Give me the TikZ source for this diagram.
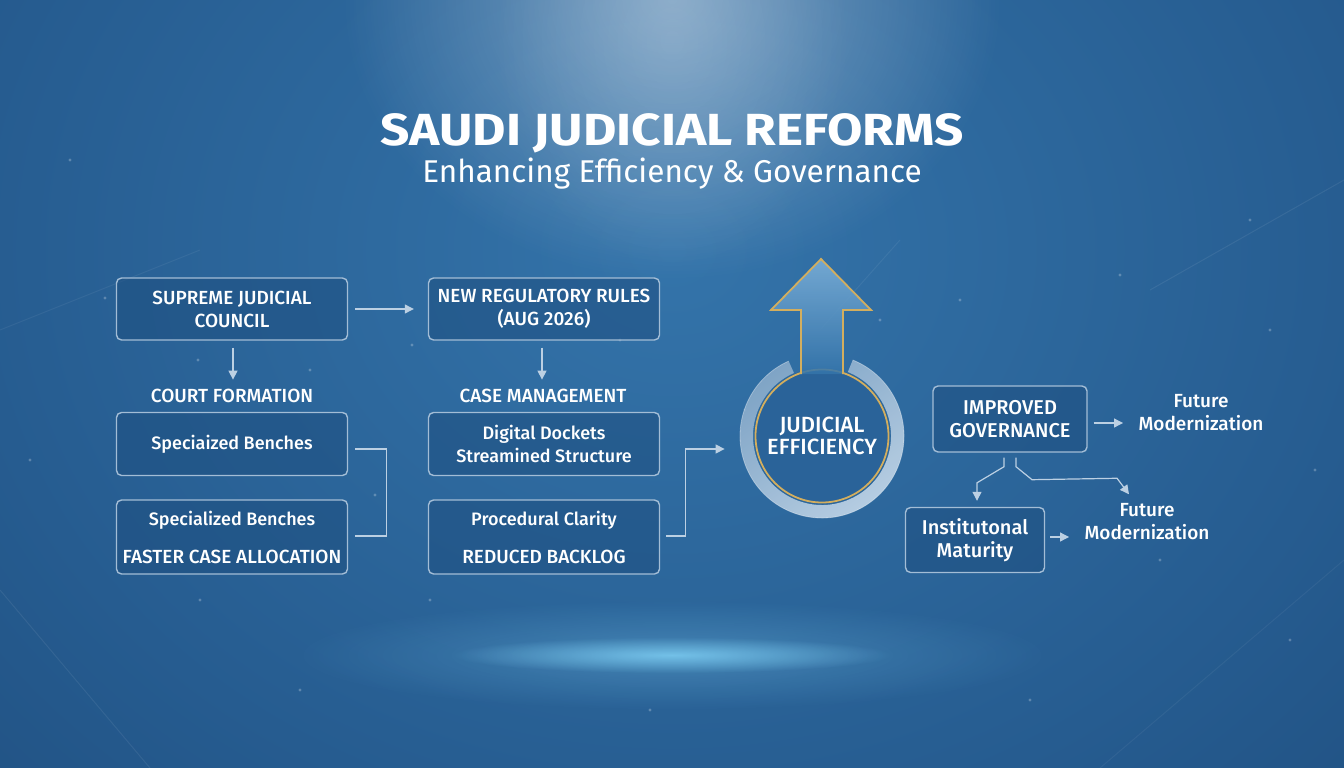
\documentclass[tikz,border=0pt]{standalone}
\usepackage{fontspec}
\setmainfont{Fira Sans}
\newfontfamily\medfont{Fira Sans Medium}
\usetikzlibrary{arrows.meta,fadings,calc}
\definecolor{bgbase}{HTML}{265C90}
\definecolor{bgcenter}{HTML}{3474AA}
\definecolor{bgedge}{HTML}{173E6B}
\definecolor{boxline}{HTML}{A3BDD6}
\definecolor{boxfill}{HTML}{1E4F80}
\definecolor{connc}{HTML}{BCD0E3}
\definecolor{gold}{HTML}{D3AE5E}
\definecolor{ringA}{HTML}{86A9C9}
\definecolor{ringB}{HTML}{C6D9EA}
\definecolor{glowc}{HTML}{7FD0F5}
\definecolor{circin}{HTML}{2A6399}
\definecolor{arrtop}{HTML}{7FB2DA}
\pgfdeclareradialshading{bgshade}{\pgfpoint{0bp}{0bp}}{color(0bp)=(bgcenter); color(18bp)=(bgbase); color(40bp)=(bgedge); color(50bp)=(bgedge)}
\tikzfading[name=glow, inner color=transparent!0, outer color=transparent!100]
\newcommand\upfont{\medfont\fontsize{19}{23}\selectfont}
\newcommand\mixfont{\medfont\fontsize{18}{23}\selectfont}
\tikzset{
  box/.style={draw=boxline, line width=1.4pt, rounded corners=5pt, fill=boxfill, fill opacity=0.55, text opacity=1, text=white, align=center, minimum width=231pt, font=\upfont},
  lbl/.style={text=white, align=center, font=\upfont},
  fm/.style={text=white, align=center, font=\medfont\fontsize{19}{23}\selectfont},
  conn/.style={draw=connc, line width=1.2pt},
  arr/.style={conn, -{Triangle[length=9pt,width=9pt]}},
  dot/.style={fill=white, opacity=0.25}
}
\begin{document}
\begin{tikzpicture}[x=1pt,y=-1pt]
\useasboundingbox (0,0) rectangle (1344,768);
\clip (0,0) rectangle (1344,768);
% background
\shade[shading=bgshade] (-300,-560) rectangle (1644,1060);
\fill[white, opacity=0.38, path fading=glow] (672,0) ellipse (330pt and 280pt);
\fill[white, opacity=0.15, path fading=glow] (672,40) ellipse (180pt and 230pt);
\fill[glowc, opacity=0.3, path fading=glow] (672,655) ellipse (380pt and 55pt);
\fill[glowc, opacity=0.8, path fading=glow] (672,655) ellipse (220pt and 18pt);
% faint lines
\draw[white, opacity=0.07, line width=1pt] (0,590) -- (150,768);
\draw[white, opacity=0.07, line width=1pt] (1344,180) -- (1150,290);
\draw[white, opacity=0.06, line width=1pt] (900,240) -- (820,330);
\draw[white, opacity=0.06, line width=1pt] (0,330) -- (200,250);
\draw[white, opacity=0.05, line width=1pt] (1100,768) -- (1344,560);
% dots
\foreach \p in {(105,298),(198,360),(310,370),(412,345),(430,600),(375,495),(620,340),(70,160),(1250,220),(1270,330),(1160,560),(1290,640),(745,410),(880,320),(960,300),(1120,275),(200,600),(650,710),(1030,700),(300,690),(1315,470),(30,460)}
  \fill[dot] \p circle (1.6pt);
% title
\node[text=white, font=\bfseries\fontsize{45}{50}\selectfont] (title) at (672,133) {\scalebox{1.14}[1]{SAUDI JUDICIAL REFORMS}};
\node[text=white, font=\fontsize{31.5}{36}\selectfont] (sub) at (672,174) {Enhancing Efficiency \& Governance};
% left column
\node[box, minimum height=62pt] (sjc) at (232,309) {SUPREME JUDICIAL\\COUNCIL};
\node[lbl] (cf) at (232,396) {COURT FORMATION};
\node[box, minimum height=63pt, font=\mixfont] (sb1) at (232,444) {Speciaized Benches};
\node[box, minimum height=74pt] (sb2) at (232,537) {{\mixfont Specialized Benches}\\[15pt]FASTER CASE ALLOCATION};
% middle column
\node[box, minimum height=62pt] (nrr) at (544,309) {NEW REGULATORY RULES\\(AUG 2026)};
\node[lbl] (cm) at (543,396) {CASE MANAGEMENT};
\node[box, minimum height=63pt, font=\mixfont] (dd) at (544,444) {Digital Dockets\\Streamined Structure};
\node[box, minimum height=74pt] (proc) at (544,537) {{\mixfont Procedural Clarity}\\[15pt]REDUCED BACKLOG};
% connectors left/middle
\draw[arr, shorten <=7pt, shorten >=14pt] (sjc) -- (nrr);
\draw[arr] ($(sjc.south)+(1,7)$) -- ($(cf.north)+(1,-6)$);
\draw[arr] ($(nrr.south)+(-2,7)$) -- ($(cm.north)+(-1,-6)$);
\draw[conn] ($(sb1.east)+(7,5)$) -- ++(31,0) |- ($(sb2.east)+(7,-1)$);
% judicial efficiency
\coordinate (jc) at (822,436);
\fill[circin] (jc) circle (68pt);
\shade[top color=ringA, bottom color=ringB, shading angle=35, opacity=0.92]
  ($(jc)+(-68:82)$) arc[start angle=-68, end angle=246, radius=82] -- ($(jc)+(246:69)$) arc[start angle=246, end angle=-68, radius=69] -- cycle;
\draw[white, opacity=0.35, line width=0.8pt] ($(jc)+(-68:82)$) arc[start angle=-68, end angle=246, radius=82];
\node[circle, draw=gold, line width=1.8pt, minimum size=133pt, text=white, align=center, font=\medfont\fontsize{22}{22}\selectfont] (je) at (jc) {JUDICIAL\\EFFICIENCY};
\draw[arr] ($(proc.east)+(6,-1)$) -| ($(proc.east)+(25,-88)$) -- ($(je.west)+(-30,13)$);
% up arrow
\shade[top color=arrtop, bottom color=bgcenter, opacity=0.85] (801,374) -- (801,310) -- (771,310) -- (821,259) -- (871,310) -- (843,310) -- (843,374) -- cycle;
\draw[gold, line width=1.8pt, line join=miter] (801,374) -- (801,310) -- (771,310) -- (821,259) -- (871,310) -- (843,310) -- (843,374);
% right side
\node[box, minimum width=154pt, minimum height=66pt, font=\medfont\fontsize{20}{23}\selectfont] (gov) at (1010,419) {IMPROVED\\GOVERNANCE};
\node[fm] (fm1) at (1201,413) {Future\\Modernization};
\node[box, minimum width=139pt, minimum height=65pt, font=\medfont\fontsize{20}{23}\selectfont] (im) at (975,540) {Institutonal\\Maturity};
\node[fm] (fm2) at (1147,522) {Future\\Modernization};
\draw[arr] ($(gov.east)+(6,4)$) -- ($(fm1.west)+(-12,10)$);
\draw[arr] ($(im.east)+(5,-3)$) -- ($(fm2.west)+(-12,15)$);
\draw[arr] ($(gov.south)+(-6,5)$) -- ++(0,9) -- ($(im.north)+(2,-24)$) -- ($(im.north)+(2,-6)$);
\draw[arr] ($(gov.south)+(6,5)$) -- ++(0,9) -- ($(gov.south)+(22,27)$) -- ($(fm2.north)+(-30,-22)$) -- ($(fm2.north)+(-18,-6)$);
\end{tikzpicture}
\end{document}
